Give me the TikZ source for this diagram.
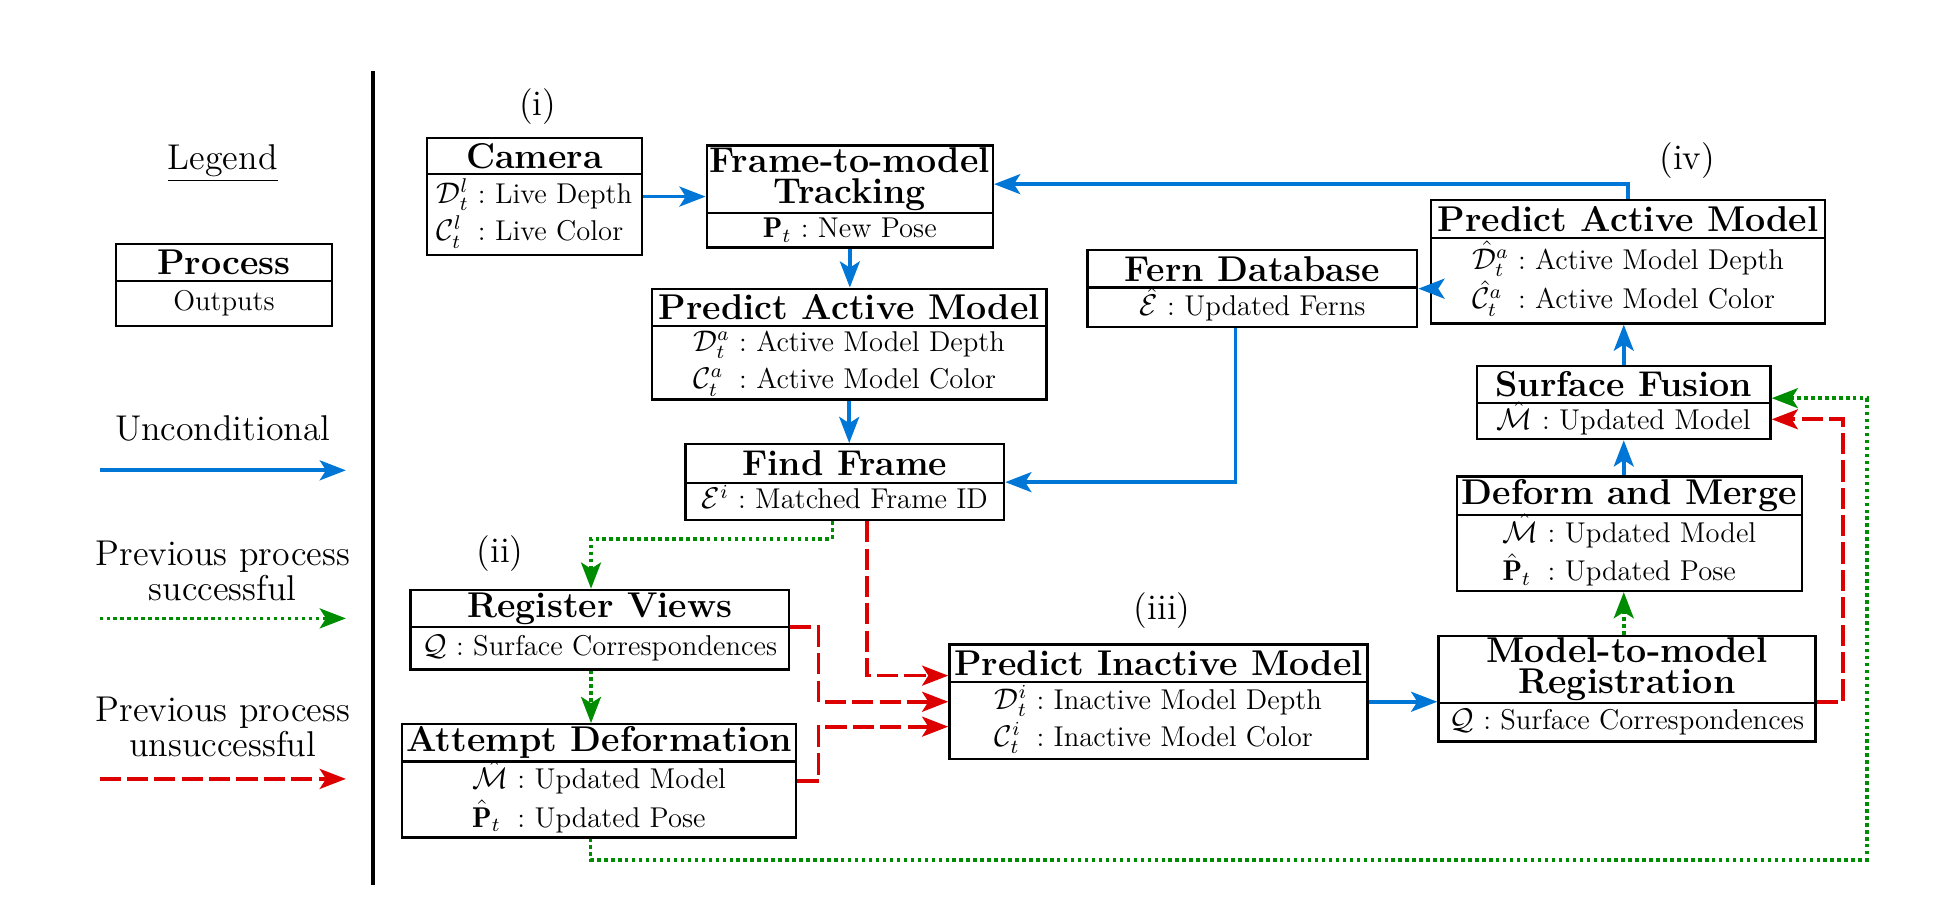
\documentclass[tikz,border=0pt]{standalone}
\usepackage{fontspec}
\usetikzlibrary{arrows.meta,calc,fit}
\definecolor{cblue}{RGB}{0,118,214}
\definecolor{cgreen}{RGB}{0,140,0}
\definecolor{cred}{RGB}{220,0,0}
\tikzset{
 boxst/.style={draw, line width=0.9pt, inner sep=0pt},
 sepline/.style={line width=0.9pt},
 titlest/.style={inner sep=0pt, align=center, font=\fontsize{14.4}{12.5}\selectfont\bfseries},
 bodyst/.style={inner sep=0pt, align=center, font=\fontsize{11.5}{15}\selectfont},
 lbl/.style={font=\fontsize{14.4}{14}\selectfont, inner sep=0pt, align=center},
 arr/.style={line width=1.5pt, -{Stealth[length=10.5pt,width=8pt,inset=2.5pt]}},
 unc/.style={arr, draw=cblue},
 succ/.style={arr, draw=cgreen, dash pattern=on 1.4pt off 1.4pt},
 fail/.style={arr, draw=cred, dash pattern=on 8.5pt off 2.5pt},
}
\newcommand{\btab}[1]{\begin{tabular}{@{}l@{\ :\ }l@{}}#1\end{tabular}}
% name x1 y1 x2 y2 sep title body
\newcommand{\procbox}[8]{%
 \node[boxst, fit={(#2,#3) (#4,#5)}] (#1) {};
 \draw[sepline] (#2,#6) -- (#4,#6);
 \pgfmathsetmacro\pbcx{(#2+#4)/2}%
 \pgfmathsetmacro\pbty{(#3+#6)/2}%
 \pgfmathsetmacro\pbby{(#6+#5)/2}%
 \node[titlest] (#1-t) at (\pbcx,\pbty) {#7};
 \node[bodyst] (#1-b) at (\pbcx,\pbby) {#8};
}
\begin{document}
\begin{tikzpicture}[x=0.5pt,y=-0.5pt]
\useasboundingbox (0,0) rectangle (1568,731.4);

% separator
\draw[line width=1.5pt] (300,57) -- (300,711);

% legend
\node[lbl] (leg) at (179,131) {\underline{Legend}};
\procbox{lproc}{93}{196}{267}{262}{226}{Process}{Outputs}
\node[lbl] (lunc) at (179,344) {Unconditional};
\coordinate (lu1) at (80,378); \coordinate (lu2) at (278,378);
\draw[unc] (lu1) -- (lu2);
\node[lbl] (lsucc) at (179,459) {Previous process\\successful};
\coordinate (ls1) at (80,497); \coordinate (ls2) at (278,497);
\draw[succ] (ls1) -- (ls2);
\node[lbl] (lfail) at (179,584) {Previous process\\unsuccessful};
\coordinate (lf1) at (80,626); \coordinate (lf2) at (278,626);
\draw[fail] (lf1) -- (lf2);

% stage labels
\node[lbl] (li) at (432,86) {(i)};
\node[lbl] (lii) at (402,445) {(ii)};
\node[lbl] (liii) at (934,491) {(iii)};
\node[lbl] (liv) at (1356,129) {(iv)};

% boxes
\procbox{cam}{343}{111}{516}{205}{140}{Camera}{\btab{$\mathcal{D}^l_t$ & Live Depth\\ $\mathcal{C}^l_t$ & Live Color}}
\procbox{ftm}{568}{117}{798}{199}{171}{Frame-to-model\\Tracking}{\btab{$\mathbf{P}_t$ & New Pose}}
\procbox{pamL}{524}{232}{841}{321}{262}{Predict Active Model}{\btab{$\mathcal{D}^a_t$ & Active Model Depth\\ $\mathcal{C}^a_t$ & Active Model Color}}
\procbox{ff}{551}{357}{807}{418}{388}{Find Frame}{\btab{$\mathcal{E}^i$ & Matched Frame ID}}
\procbox{fern}{874}{201}{1139}{263}{231}{Fern Database}{\btab{$\hat{\mathcal{E}}$ & Updated Ferns}}
\procbox{pamR}{1150}{161}{1467}{260}{191}{Predict Active Model}{\btab{$\hat{\mathcal{D}}^a_t$ & Active Model Depth\\ $\hat{\mathcal{C}}^a_t$ & Active Model Color}}
\procbox{sf}{1187}{294}{1423}{353}{324}{Surface Fusion}{\btab{$\hat{\mathcal{M}}$ & Updated Model}}
\procbox{dm}{1171}{383}{1448}{475}{414}{Deform and Merge}{\btab{$\hat{\mathcal{M}}$ & Updated Model\\ $\hat{\mathbf{P}}_t$ & Updated Pose}}
\procbox{mm}{1156}{511}{1459}{596}{565}{Model-to-model\\Registration}{\btab{$\mathcal{Q}$ & Surface Correspondences}}
\procbox{rv}{330}{474}{634}{538}{504}{Register Views}{\btab{$\mathcal{Q}$ & Surface Correspondences}}
\procbox{ad}{323}{582}{640}{673}{612}{Attempt Deformation}{\btab{$\hat{\mathcal{M}}$ & Updated Model\\ $\hat{\mathbf{P}}_t$ & Updated Pose}}
\procbox{pim}{763}{518}{1099}{610}{548}{Predict Inactive Model}{\btab{$\mathcal{D}^i_t$ & Inactive Model Depth\\ $\mathcal{C}^i_t$ & Inactive Model Color}}

% connectors: unconditional
\draw[unc] (cam.east) -- (cam.east -| ftm.west);
\draw[unc] (ftm.south) -- (ftm.south |- pamL.north);
\draw[unc] (pamL.south) -- (pamL.south |- ff.north);
\draw[unc] (pamR.north) |- ($(ftm.east)+(0,-10)$);
\draw[unc] (pamR.west |- fern.east) -- (fern.east);
\coordinate (fernout) at ($(fern.south)+(-13.5,0)$);
\draw[unc] (fernout) |- (ff.east);
\draw[unc] (sf.north) -- (sf.north |- pamR.south);
\draw[unc] (sf.south |- dm.north) -- (sf.south);
\draw[unc] (pim.east) -- (pim.east -| mm.west);

% connectors: successful
\draw[succ] (sf.south |- mm.north) -- (sf.south |- dm.south);
\coordinate (ffg) at ($(ff.south)+(-10,0)$);
\coordinate (rvin) at ($(rv.north)+(-7,0)$);
\draw[succ] (ffg) -- ++(0,14) -| (rvin);
\coordinate (rvs) at ($(rv.south)+(-7,0)$);
\draw[succ] (rvs) -- (rvs |- ad.north);
\coordinate (ads) at ($(ad.south)+(-7,0)$);
\draw[succ] (ads) -- ++(0,17) -- ++(1026,0) |- ($(sf.east)+(0,-3.5)$);

% connectors: unsuccessful
\coordinate (ffr) at ($(ff.south)+(18,0)$);
\draw[fail] (ffr) |- ($(pim.west)+(0,-21)$);
\draw[fail] ($(rv.east)+(0,-2)$) -- ++(23,0) |- (pim.west);
\draw[fail] (ad.east) -- ++(17,0) |- ($(pim.west)+(0,20)$);
\draw[fail] (mm.east |- pim.east) -- ++(21,0) |- ($(sf.east)+(0,13.5)$);
\end{tikzpicture}
\end{document}
